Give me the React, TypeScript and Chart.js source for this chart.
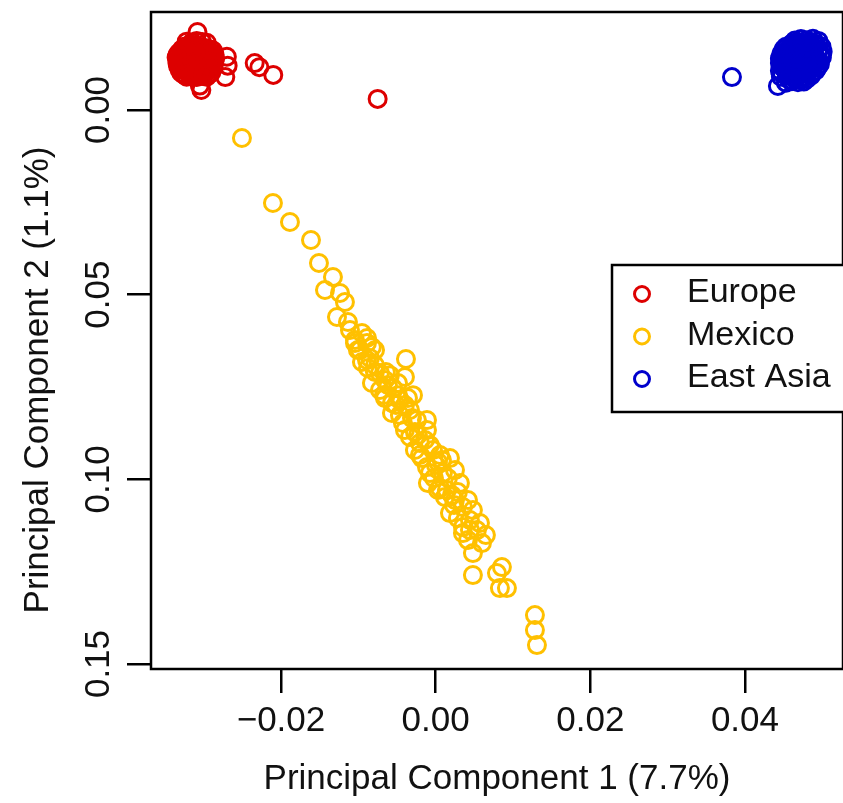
import { useEffect, useRef } from "react";
import { Chart, registerables } from "chart.js";

Chart.register(...registerables);

const seriesNames = ["Europe", "Mexico", "East Asia"];
const seriesColors = ["#DD0000", "#FFC000", "#0000CC"];
const xTickValues = [-0.02, 0, 0.02, 0.04];
const yTickValues = [0, 0.05, 0.1, 0.15];
const xTitle = "Principal Component 1 (7.7%)";
const yTitle = "Principal Component 2 (1.1%)";

const europePoints: [number, number][] = [
  [-0.0322, -0.0185], [-0.0315, -0.0183], [-0.0309, -0.0187], [-0.0302, -0.0184], [-0.0296, -0.0182],
  [-0.0324, -0.0172], [-0.0318, -0.0169], [-0.0311, -0.0174], [-0.0305, -0.017], [-0.0298, -0.0168],
  [-0.0332, -0.0155], [-0.0326, -0.0159], [-0.0319, -0.0156], [-0.0313, -0.016], [-0.0306, -0.0154],
  [-0.03, -0.0158], [-0.0293, -0.0156], [-0.0288, -0.0161],
  [-0.0335, -0.0142], [-0.0329, -0.0146], [-0.0322, -0.0143], [-0.0316, -0.0145], [-0.0309, -0.0141],
  [-0.0303, -0.0146], [-0.0296, -0.0143], [-0.029, -0.0145], [-0.0285, -0.014],
  [-0.0334, -0.0128], [-0.0327, -0.0132], [-0.0321, -0.0129], [-0.0314, -0.0131], [-0.0308, -0.0127],
  [-0.0301, -0.0133], [-0.0295, -0.0129], [-0.0289, -0.0131],
  [-0.0333, -0.0118], [-0.0326, -0.0114], [-0.032, -0.0117], [-0.0313, -0.0115], [-0.0307, -0.0119],
  [-0.03, -0.0114], [-0.0294, -0.0117], [-0.0287, -0.0115],
  [-0.0329, -0.0101], [-0.0322, -0.0105], [-0.0316, -0.0102], [-0.0309, -0.0104], [-0.0303, -0.01],
  [-0.0297, -0.0105], [-0.029, -0.0102],
  [-0.0322, -0.009], [-0.0315, -0.0093], [-0.0309, -0.0089], [-0.0302, -0.0092], [-0.0296, -0.009],
  [-0.032, -0.015], [-0.0307, -0.0137], [-0.0317, -0.0123], [-0.0304, -0.011], [-0.0296, -0.0137],
  [-0.0327, -0.0138], [-0.0312, -0.0165], [-0.0298, -0.015], [-0.0323, -0.011], [-0.031, -0.0097],
  [-0.0328, -0.0164], [-0.0321, -0.0166], [-0.0315, -0.0163], [-0.0308, -0.0165], [-0.0302, -0.0162],
  [-0.0295, -0.0165], [-0.029, -0.0163],
  [-0.0334, -0.0149], [-0.0329, -0.0152], [-0.0323, -0.0149], [-0.0316, -0.0151], [-0.031, -0.0148],
  [-0.0303, -0.0152], [-0.0297, -0.0149], [-0.0291, -0.0151], [-0.0286, -0.015],
  [-0.0331, -0.0136], [-0.0324, -0.0138], [-0.0318, -0.0135], [-0.0311, -0.0138], [-0.0305, -0.0135],
  [-0.0298, -0.0138], [-0.0292, -0.0136], [-0.0287, -0.0137],
  [-0.033, -0.0122], [-0.0324, -0.0125], [-0.0317, -0.0122], [-0.0311, -0.0124], [-0.0304, -0.0121],
  [-0.0298, -0.0124], [-0.0291, -0.0122],
  [-0.0331, -0.0109], [-0.0325, -0.0111], [-0.0318, -0.0108], [-0.0312, -0.0111], [-0.0305, -0.0108],
  [-0.0299, -0.0111], [-0.0292, -0.0109],
  [-0.0326, -0.0096], [-0.0319, -0.0098], [-0.0313, -0.0095], [-0.0306, -0.0098], [-0.03, -0.0096],
  [-0.0293, -0.0097],
  [-0.0308, -0.0211], [-0.0303, -0.0054], [-0.0305, -0.0066], [-0.027, -0.0144], [-0.0269, -0.012],
  [-0.0272, -0.0089],
  [-0.0234, -0.0127], [-0.0228, -0.0116], [-0.021, -0.0095], [-0.0075, -0.003],
];

const mexicoPoints: [number, number][] = [
  [-0.02505, 0.00758], [-0.02104, 0.02518], [-0.01884, 0.03033], [-0.01612, 0.0352], [-0.01509, 0.04143],
  [-0.01328, 0.04522], [-0.01431, 0.04874], [-0.01237, 0.04956], [-0.01173, 0.05199], [-0.01276, 0.05606],
  [-0.01134, 0.05741], [-0.00953, 0.06039], [-0.01043, 0.06228], [-0.00888, 0.06174], [-0.00384, 0.06743],
  [-0.00849, 0.06716], [-0.01043, 0.0631], [-0.00888, 0.0631], [-0.00888, 0.0677], [-0.00875, 0.06987],
  [-0.0072, 0.07122], [-0.00397, 0.0723], [-0.0072, 0.07582], [-0.00552, 0.07528], [-0.00565, 0.07934],
  [-0.00462, 0.07853], [-0.00565, 0.08205], [-0.00332, 0.08124], [-0.00423, 0.08476], [-0.00242, 0.08395],
  [-0.00112, 0.08395], [-0.00332, 0.08855], [-0.00112, 0.08666], [-0.00203, 0.09018], [-0.00035, 0.09207],
  [0.00185, 0.09424], [-0.00112, 0.09668], [-0.00074, 0.0983], [-0.001, 0.10101], [0.00094, 0.0983],
  [0.00146, 0.1029], [0.00314, 0.10101], [0.0012, 0.1048], [0.00185, 0.10913], [0.00353, 0.10751],
  [0.00482, 0.10832], [0.00353, 0.11292], [0.00573, 0.11184], [0.00353, 0.11455], [0.00534, 0.11374],
  [0.00599, 0.11726], [0.00482, 0.11996], [0.00482, 0.12592], [0.00857, 0.12376], [0.00793, 0.12538],
  [0.00831, 0.12944], [0.00922, 0.12944], [0.01284, 0.13675], [0.01284, 0.14082], [0.0131, 0.14488],
  [-0.00978, 0.065], [-0.00784, 0.0691], [-0.00655, 0.0731], [-0.00487, 0.0772], [-0.00655, 0.078],
  [-0.00397, 0.0799], [-0.00268, 0.0872], [-0.00203, 0.0934], [0.0003, 0.0953], [0.0003, 0.1029],
  [0.0025, 0.1056], [0.00443, 0.111], [-0.01108, 0.0596], [-0.00784, 0.065], [-0.00591, 0.0718],
  [-0.00293, 0.0772], [0.00056, 0.0934], [0.0025, 0.0975],
  [-0.01005, 0.06499], [-0.00824, 0.06418], [-0.00953, 0.06824], [-0.00785, 0.07095], [-0.00643, 0.07095],
  [-0.00824, 0.07393], [-0.00617, 0.07447], [-0.00487, 0.07393], [-0.00668, 0.07718], [-0.00513, 0.07989],
  [-0.00358, 0.07799], [-0.00462, 0.08259], [-0.00306, 0.08341], [-0.00397, 0.08666], [-0.00229, 0.08801],
  [-0.00138, 0.08936], [-0.00268, 0.09207], [-0.00074, 0.09072], [-0.00177, 0.09424], [0.00004, 0.09613],
  [0.00081, 0.09478], [-0.00022, 0.09965], [0.00159, 0.09965], [0.00056, 0.10236], [0.00211, 0.10426],
  [0.00288, 0.10345], [0.00237, 0.10697], [0.00418, 0.10561], [0.00288, 0.11049], [0.00444, 0.11374],
  [0.00418, 0.11644], [0.0065, 0.11509],
];

const eastAsiaPoints: [number, number][] = [
  [0.04646, -0.0188], [0.04724, -0.0192], [0.04801, -0.0189], [0.04879, -0.0193], [0.0495, -0.0187],
  [0.04529, -0.0171], [0.04607, -0.0175], [0.04685, -0.0172], [0.04762, -0.0174], [0.0484, -0.017],
  [0.04917, -0.0175], [0.0499, -0.0172],
  [0.04478, -0.0155], [0.04556, -0.0159], [0.04633, -0.0156], [0.04711, -0.0158], [0.04788, -0.0154],
  [0.04866, -0.0159], [0.04943, -0.0156], [0.05005, -0.0158],
  [0.04452, -0.0139], [0.0453, -0.0143], [0.04607, -0.014], [0.04685, -0.0142], [0.04762, -0.0138],
  [0.0484, -0.0143], [0.04917, -0.014], [0.04995, -0.0142],
  [0.04452, -0.0127], [0.0453, -0.0123], [0.04607, -0.0126], [0.04685, -0.0124], [0.04762, -0.0128],
  [0.0484, -0.0123], [0.04917, -0.0126], [0.04969, -0.0124],
  [0.04452, -0.0106], [0.0453, -0.011], [0.04607, -0.0107], [0.04685, -0.0109], [0.04762, -0.0105],
  [0.0484, -0.011], [0.04917, -0.0107],
  [0.04465, -0.009], [0.04543, -0.0094], [0.0462, -0.0091], [0.04698, -0.0093], [0.04775, -0.0089],
  [0.04853, -0.0093],
  [0.0453, -0.0074], [0.04607, -0.0078], [0.04685, -0.0075], [0.04762, -0.0077],
  [0.0457, -0.0149], [0.0472, -0.0133], [0.0488, -0.0149], [0.0465, -0.0117], [0.048, -0.01],
  [0.0449, -0.0117], [0.0495, -0.0133], [0.0458, -0.0165], [0.0474, -0.0182], [0.0465, -0.0084],
  [0.04607, -0.018], [0.04685, -0.0183], [0.04762, -0.018], [0.0484, -0.0182], [0.04917, -0.0179],
  [0.045, -0.0164], [0.04568, -0.0166], [0.04646, -0.0163], [0.04724, -0.0166], [0.04801, -0.0163],
  [0.04879, -0.0166], [0.04956, -0.0164],
  [0.04465, -0.0148], [0.04517, -0.015], [0.04594, -0.0147], [0.04672, -0.015], [0.04749, -0.0147],
  [0.04827, -0.015], [0.04904, -0.0148], [0.0498, -0.015],
  [0.04491, -0.0132], [0.04568, -0.0134], [0.04646, -0.0131], [0.04724, -0.0134], [0.04801, -0.0131],
  [0.04879, -0.0134], [0.04956, -0.0132],
  [0.04491, -0.0115], [0.04568, -0.0117], [0.04646, -0.0114], [0.04724, -0.0117], [0.04801, -0.0114],
  [0.04879, -0.0117], [0.0494, -0.0115],
  [0.04478, -0.0099], [0.04556, -0.0101], [0.04633, -0.0098], [0.04711, -0.0101], [0.04788, -0.0098],
  [0.04866, -0.01],
  [0.04568, -0.0083], [0.04646, -0.0085], [0.04724, -0.0082], [0.04801, -0.0084],
  [0.04426, -0.0065], [0.03832, -0.0089],
];

const seriesPoints = [europePoints, mexicoPoints, eastAsiaPoints];

const FONT = "'Liberation Sans', Arial, Helvetica, sans-serif";
const TEXT = "#111111";

function fmt(v: number): string {
  const s = Math.abs(v).toFixed(2);
  return v < -1e-9 ? "\u2212" + s : s;
}

const boxPlugin = {
  id: "rbox",
  afterDraw(chart: any) {
    const { ctx, chartArea } = chart;
    ctx.save();
    ctx.strokeStyle = "#000";
    ctx.lineWidth = 2.5;
    ctx.strokeRect(chartArea.left, chartArea.top, chartArea.right - chartArea.left, chartArea.bottom - chartArea.top);

    ctx.fillStyle = TEXT;
    ctx.font = `35px ${FONT}`;
    ctx.textAlign = "center";
    ctx.textBaseline = "middle";
    ctx.translate(38, 380);
    ctx.rotate(-Math.PI / 2);
    ctx.fillText(yTitle, 0, 0);
    ctx.restore();

    ctx.save();
    ctx.strokeStyle = "#000";
    ctx.lineWidth = 2.5;
    ctx.fillStyle = "#fff";
    ctx.fillRect(612, 265, 240, 147);
    ctx.strokeRect(612, 265, 240, 147);
    chart.data.datasets.forEach((ds: any, i: number) => {
      const cy = 294 + i * 42.5;
      ctx.beginPath();
      ctx.lineWidth = 3;
      ctx.strokeStyle = ds.borderColor;
      ctx.arc(642, cy, 7.5, 0, Math.PI * 2);
      ctx.stroke();
      ctx.fillStyle = TEXT;
      ctx.font = `34px ${FONT}`;
      ctx.textAlign = "left";
      ctx.textBaseline = "middle";
      ctx.fillText(ds.label, 687, cy - 1);
    });
    ctx.restore();
  },
};

export default function App() {
  const ref = useRef<HTMLCanvasElement | null>(null);
  useEffect(() => {
    if (!ref.current) return;
    const chart = new Chart(ref.current, {
      type: "scatter",
      data: {
        datasets: seriesNames.map((name, i) => ({
          label: name,
          data: seriesPoints[i].map(([x, y]) => ({ x, y })),
          borderColor: seriesColors[i],
          backgroundColor: "rgba(0,0,0,0)",
          pointRadius: 8.5,
          pointHoverRadius: 8.5,
          pointBorderWidth: 3,
          pointStyle: "circle",
        })),
      },
      options: {
        animation: false,
        responsive: false,
        devicePixelRatio: 1,
        layout: { autoPadding: false, padding: { top: 12, right: 0, left: 0, bottom: 0 } },
        plugins: { legend: { display: false }, tooltip: { enabled: false } },
        scales: {
          x: {
            type: "linear",
            min: -0.03681,
            max: 0.05268,
            afterBuildTicks: (s: any) => {
              s.ticks = xTickValues.map((v) => ({ value: v }));
            },
            afterFit: (s: any) => {
              s.height = 134;
              s.paddingLeft = 0;
              s.paddingRight = 0;
            },
            grid: { display: true, drawOnChartArea: false, drawTicks: true, tickLength: 24, color: "#000", lineWidth: 2.5 },
            border: { display: false },
            ticks: {
              font: { family: FONT, size: 35 },
              color: TEXT,
              padding: 7,
              maxRotation: 0,
              minRotation: 0,
              callback: (v: any) => fmt(Number(v)),
            },
            title: {
              display: true,
              text: xTitle,
              font: { family: FONT, size: 35 },
              color: TEXT,
              padding: { top: 0, bottom: 3 },
            },
          },
          y: {
            type: "linear",
            reverse: true,
            min: -0.02653,
            max: 0.15135,
            afterBuildTicks: (s: any) => {
              s.ticks = yTickValues.map((v) => ({ value: v }));
            },
            afterFit: (s: any) => {
              s.width = 151;
              s.paddingTop = 0;
              s.paddingBottom = 0;
            },
            grid: { display: true, drawOnChartArea: false, drawTicks: true, tickLength: 24, color: "#000", lineWidth: 2.5 },
            border: { display: false },
            ticks: {
              font: { family: FONT, size: 35 },
              color: TEXT,
              padding: -6,
              minRotation: 90,
              maxRotation: 90,
              crossAlign: "center",
              callback: (v: any) => fmt(Number(v)),
            },
          },
        },
      },
      plugins: [boxPlugin],
    } as any);
    return () => chart.destroy();
  }, []);
  return (
    <div style={{ position: "absolute", left: 0, top: 0, width: 843, height: 803, background: "#fff" }}>
      <canvas ref={ref} width={843} height={803} style={{ display: "block" }} />
    </div>
  );
}
